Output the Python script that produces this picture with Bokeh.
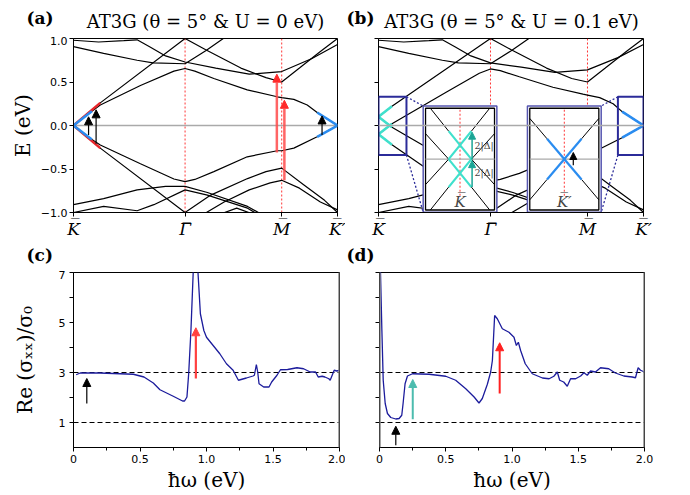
from bokeh.plotting import figure
from bokeh.models import Span, Label, Arrow, NormalHead, FixedTicker, BoxAnnotation, Range1d
from bokeh.layouts import column, row
from bokeh.embed import file_html
from bokeh.resources import INLINE
from bokeh.core.properties import value

# ---------------- k-path ----------------
K_PT, G_PT, M_PT, KP_PT = 0.0, 1.3333, 2.4880, 3.1547
path_ticks = [K_PT, G_PT, M_PT, KP_PT]
path_labels = ["K\u0305", "\u0393\u0305", "M\u0305", "K\u0305\u2032"]

titles = ["AT3G (\u03b8 = 5\u00b0 & U = 0 eV)", "AT3G (\u03b8 = 5\u00b0 & U = 0.1 eV)"]
panel_tags = ["(a)", "(b)", "(c)", "(d)"]

# ---------------- panel (a) bands, U = 0 ----------------
a_c1_k = [0, 0.22, 0.32, 0.8, 1.2, 1.333, 1.45, 1.677, 2.076, 2.434, 2.488, 2.633, 2.793, 2.912, 3.155]
a_c1_E = [0, 0.165, 0.235, 0.46, 0.625, 0.655, 0.625, 0.54, 0.41, 0.33, 0.32, 0.30, 0.236, 0.15, 0.0]
a_v1_k = [0, 0.22, 0.32, 0.8, 1.2, 1.333, 1.45, 1.677, 2.076, 2.434, 2.488, 2.633, 2.912, 3.155]
a_v1_E = [0, -0.16, -0.225, -0.44, -0.615, -0.646, -0.62, -0.53, -0.36, -0.29, -0.29, -0.26, -0.13, 0]
a_c2_k = [0, 0.32, 1.333, 1.58, 2.0, 2.3, 2.488, 2.7, 2.95, 3.155]
a_c2_E = [0, 0.26, 1.0, 0.87, 0.66, 0.55, 0.5, 0.66, 0.85, 1.0]
a_v2_k = [0, 0.32, 1.333, 1.64, 2.08, 2.3, 2.488, 2.75, 3.0, 3.155]
a_v2_E = [0, -0.26, -1.0, -0.8, -0.61, -0.53, -0.49, -0.68, -0.86, -1.0]
a_c3_k = [0, 0.3, 0.6, 0.76, 0.92, 1.1, 1.333, 1.7, 2.1, 2.488, 2.85, 3.155]
a_c3_E = [0.98, 0.96, 0.975, 0.985, 0.9, 0.8, 0.73, 0.66, 0.59, 0.62, 0.77, 0.93]
a_c4_k = [0, 0.36, 0.76, 0.95, 1.333, 1.58, 1.79, 1.9]
a_c4_E = [0.906, 0.83, 0.75, 0.72, 0.71, 0.86, 1.0, 1.06]
a_v3_k = [0, 0.36, 0.76, 1.1, 1.333, 1.6, 2.08, 2.3]
a_v3_E = [-0.91, -0.84, -0.74, -0.70, -0.70, -0.77, -0.93, -1.05]
a_v4_k = [0, 0.36, 0.76, 0.96, 1.333, 1.6, 2.08, 2.25]
a_v4_E = [-1.0, -0.93, -0.98, -0.91, -0.74, -0.80, -0.95, -1.05]
a_v5_k = [1.5, 1.8, 2.1, 2.35, 2.488, 2.7, 2.95, 3.155]
a_v5_E = [-1.05, -0.88, -0.74, -0.66, -0.63, -0.72, -0.88, -0.97]
a_v6_k = [1.75, 1.95, 2.15]
a_v6_E = [-1.02, -0.95, -1.02]

# arrows in (a): k, E_start, E_end
a_black_arrow_k = [0.18, 0.27, 2.97]
a_black_arrow_E0 = [-0.11, -0.21, -0.11]
a_black_arrow_E1 = [0.10, 0.18, 0.11]
a_red_arrow_k = [2.43, 2.52]
a_red_arrow_E0 = [-0.31, -0.63]
a_red_arrow_E1 = [0.59, 0.29]

# ---------------- panel (b) bands, U = 0.1 eV ----------------
b_c1_k = [0, 0.16, 0.8, 1.2, 1.333, 1.45, 1.677, 2.076, 2.434, 2.488, 2.633, 2.793, 2.9, 3.155]
b_c1_E = [-0.1, 0.02, 0.38, 0.6, 0.65, 0.63, 0.56, 0.44, 0.36, 0.35, 0.32, 0.25, 0.16, 0.0]
b_v1_k = [0, 0.16, 0.8, 1.2, 1.333, 1.45, 1.677, 2.076, 2.434, 2.488, 2.633, 2.9, 3.155]
b_v1_E = [0.1, -0.02, -0.38, -0.6, -0.64, -0.62, -0.55, -0.39, -0.31, -0.30, -0.27, -0.14, 0]
b_c2_k = [0, 0.16, 1.333, 1.58, 2.0, 2.3, 2.488, 2.7, 2.95, 3.155]
b_c2_E = [0.1, 0.22, 1.0, 0.87, 0.66, 0.54, 0.5, 0.66, 0.85, 1.0]
b_v2_k = [0, 0.16, 1.333, 1.64, 2.08, 2.3, 2.488, 2.75, 3.0, 3.155]
b_v2_E = [-0.1, -0.22, -1.0, -0.8, -0.61, -0.53, -0.49, -0.68, -0.86, -1.0]
b_c3_E = [0.98, 0.96, 0.975, 0.985, 0.9, 0.8, 0.72, 0.67, 0.61, 0.64, 0.78, 0.93]

# zoom windows (k0, k1, E0, E1) and inset boxes (inner frame)
zoom_K = (0.0, 0.333, -0.34, 0.33)
zoom_KP = (2.85, 3.1547, -0.34, 0.33)
inset_K = (0.56, 1.381, -0.971, 0.198)
inset_KP = (1.801, 2.623, -0.971, 0.198)
inset_pad = (0.028, 0.026)

# inset contents in normalised units (u, v in [-1, 1])
insK_cyan_u = [[-0.33, 0.33], [-0.33, 0.33], [-0.33, 0.33], [-0.33, 0.33]]
insK_cyan_v = [[0.55, 0.0], [0.0, 0.55], [0.0, -0.55], [-0.55, 0.0]]
insK_black_u = [[-0.33, -0.86], [0.33, 0.86], [-0.33, -0.86], [0.33, 0.86],
                [-0.33, -1.0], [-0.33, -1.0], [0.33, 1.0], [0.33, 1.0]]
insK_black_v = [[0.55, 1.0], [0.55, 1.0], [-0.55, -1.0], [-0.55, -1.0],
                [0.0, 0.5], [0.0, -0.5], [0.0, 0.5], [0.0, -0.5]]
insK_arrow_u = [0.35, 0.35]
insK_arrow_v0 = [-0.55, 0.0]
insK_arrow_v1 = [-0.03, 0.53]
insK_text_v = [0.27, -0.27]
insKP_blue_u = [[-0.5, 0.5], [-0.5, 0.5]]
insKP_blue_v = [[0.4, -0.4], [-0.4, 0.4]]
insKP_black_u = [[-1.0, -0.5], [0.5, 1.0], [-1.0, -0.5], [0.5, 1.0]]
insKP_black_v = [[0.8, 0.4], [0.4, 0.8], [-0.8, -0.4], [-0.4, -0.8]]
insKP_arrow = (0.26, -0.12, 0.13)

# ---------------- optical conductivity ----------------
c_w = [0.02, 0.05, 0.2, 0.45, 0.53, 0.6, 0.65, 0.75, 0.82, 0.835, 0.853, 0.866, 0.883, 0.90, 0.915,
       0.936, 0.954, 0.98, 1.0, 1.05, 1.10, 1.15, 1.2, 1.24, 1.30, 1.35, 1.36, 1.375, 1.385, 1.395,
       1.43, 1.47, 1.49, 1.53, 1.556, 1.61, 1.68, 1.73, 1.78, 1.82, 1.84, 1.87, 1.89, 1.92, 1.93,
       1.96, 1.98, 2.0]
c_s = [2.91, 2.98, 2.98, 2.93, 2.82, 2.58, 2.31, 2.05, 1.86, 1.86, 2.02, 2.95, 4.68, 7.0, 8.5,
       7.0, 5.35, 4.68, 4.41, 4.08, 3.75, 3.35, 3.09, 2.69, 2.78, 2.86, 2.89, 3.32, 3.02, 2.55,
       2.42, 2.42, 2.62, 2.89, 3.11, 3.12, 3.19, 3.15, 3.02, 3.02, 2.82, 2.85, 2.82, 2.75, 2.69,
       3.09, 3.06, 3.09]
d_w = [0.003, 0.018, 0.028, 0.043, 0.06, 0.085, 0.123, 0.148, 0.168, 0.178, 0.193, 0.211, 0.249,
       0.374, 0.5, 0.575, 0.651, 0.714, 0.751, 0.776, 0.814, 0.839, 0.852, 0.869, 0.889, 0.927,
       0.977, 1.015, 1.033, 1.048, 1.065, 1.10, 1.153, 1.23, 1.28, 1.316, 1.342, 1.36, 1.39, 1.417,
       1.442, 1.48, 1.518, 1.543, 1.568, 1.593, 1.63, 1.668, 1.73, 1.78, 1.807, 1.844, 1.907,
       1.932, 1.952, 1.97, 2.0]
d_s = [8.0, 4.68, 2.69, 1.76, 1.36, 1.2, 1.14, 1.16, 1.29, 1.76, 2.55, 2.86, 2.95,
       2.93, 2.85, 2.69, 2.35, 2.02, 1.78, 1.96, 2.53, 3.02, 3.48, 5.28, 5.15, 4.75,
       4.61, 4.41, 4.08, 4.21, 3.88, 3.35, 2.95, 2.78, 2.75, 2.85, 3.02, 2.69, 2.62, 2.45,
       2.75, 2.75, 2.86, 2.99, 2.89, 3.06, 3.02, 3.19, 3.15, 2.98, 2.93, 2.86, 2.82,
       2.79, 3.19, 3.09, 3.02]
ref_levels = [1, 3]
c_arrows = [(0.10, 1.76, 2.76, "black"), (0.92, 2.76, 4.79, "#ff4040")]
d_arrows = [(0.123, 0.09, 0.85, "black"), (0.251, 1.13, 2.72, "#4cbcae"), (0.907, 2.16, 4.19, "#ff2020")]

SERIF = "DejaVu Serif"
SANS = "DejaVu Sans"
RED = "#e8262a"
BLUE = "#2a8cf0"
CYAN = "#3fe0cc"
TEAL = "#1aa595"
NAVY = "#1c1c9c"
BOXC = "#2b2b99"


def base_fig(width, height, left, right, top, bottom, xr, yr):
    p = figure(width=width, height=height, x_range=xr, y_range=yr,
               min_border_left=left, min_border_right=right,
               min_border_top=top, min_border_bottom=bottom,
               output_backend="svg", toolbar_location=None)
    p.grid.visible = False
    p.outline_line_color = "black"
    p.outline_line_width = 1
    p.background_fill_color = "white"
    p.border_fill_color = "white"
    for ax in p.axis:
        ax.axis_line_color = "black"
        ax.major_tick_out = 4
        ax.major_tick_in = 0
        ax.minor_tick_out = 3
        ax.minor_tick_in = 0
        ax.major_label_standoff = 2
        ax.major_label_text_font = SANS
        ax.major_label_text_font_size = "11px"
        ax.major_label_text_color = "black"
        ax.axis_label_text_font = SERIF
        ax.axis_label_text_font_style = "normal"
        ax.axis_label_text_font_size = "20px"
        ax.axis_label_text_color = "black"
    return p


def header_fig(height, tags, tag_x, tag_y, texts=None, text_x=None, text_y=None):
    h = figure(width=690, height=height, x_range=Range1d(0, 690), y_range=Range1d(height, 0),
               min_border=0, output_backend="svg", toolbar_location=None,
               x_axis_type=None, y_axis_type=None)
    h.grid.visible = False
    h.outline_line_color = None
    h.text(x=tag_x, y=tag_y, text=tags, text_font=value(SERIF), text_font_style="bold",
           text_font_size="17px", text_baseline="middle", text_align="left", text_color="black")
    if texts:
        h.text(x=text_x, y=text_y, text=texts, text_font=value(SERIF), text_font_style="normal",
               text_font_size="18px", text_baseline="middle", text_align="center", text_color="black")
    return h


def band_axes(p, show_y):
    p.xaxis.ticker = FixedTicker(ticks=path_ticks, minor_ticks=[])
    p.xaxis.major_label_overrides = dict(zip(path_ticks, path_labels))
    p.xaxis.major_label_text_font = SERIF
    p.xaxis.major_label_text_font_style = "italic"
    p.xaxis.major_label_text_font_size = "17px"
    p.yaxis.ticker = FixedTicker(ticks=[-1, -0.5, 0, 0.5, 1], minor_ticks=[])
    if show_y:
        p.yaxis.major_label_overrides = {-1: "\u22121.0", -0.5: "\u22120.5", 0: "0.0", 0.5: "0.5", 1: "1.0"}
        p.yaxis.axis_label = "E (eV)"
        p.yaxis.axis_label_standoff = 3
    else:
        p.yaxis.major_label_overrides = {-1: "", -0.5: "", 0: "", 0.5: "", 1: ""}


def inset_map(u, v, box):
    k0, k1, e0, e1 = box
    return [k0 + (x + 1) / 2 * (k1 - k0) for x in u], [e0 + (y + 1) / 2 * (e1 - e0) for y in v]


def draw_lines(p, us, vs, box, color, width):
    xs, ys = [], []
    for u, v in zip(us, vs):
        x, y = inset_map(u, v, box)
        xs.append(x)
        ys.append(y)
    p.multi_line(xs, ys, line_color=color, line_width=width)


# ================= header rows =================
head1 = header_fig(36, panel_tags[:2], [26, 346], [17, 17], titles, [205, 511], [21, 21])
head2 = header_fig(28, panel_tags[2:], [26, 346], [12, 12])

# ================= panel (a) =================
pa = base_fig(345, 206, 73, 8, 2, 30, (K_PT, KP_PT), (-1, 1))
band_axes(pa, True)
for loc in (G_PT, M_PT):
    pa.add_layout(Span(location=loc, dimension="height", line_color="red",
                       line_dash="2 2", line_width=0.8, level="underlay"))
pa.add_layout(Span(location=0, dimension="width", line_color="#aaaaaa", line_width=1.5, level="underlay"))
for k, E in [(a_c1_k, a_c1_E), (a_v1_k, a_v1_E), (a_c2_k, a_c2_E), (a_v2_k, a_v2_E),
             (a_c3_k, a_c3_E), (a_c4_k, a_c4_E), (a_v3_k, a_v3_E), (a_v4_k, a_v4_E),
             (a_v5_k, a_v5_E), (a_v6_k, a_v6_E)]:
    pa.line(k, E, line_color="black", line_width=1.2)
for k, E in [(a_c2_k, a_c2_E), (a_v2_k, a_v2_E)]:
    pa.line(k[:2], E[:2], line_color=RED, line_width=2.5)
for k, E in [(a_c1_k, a_c1_E), (a_v1_k, a_v1_E)]:
    pa.line(k[:2], E[:2], line_color=BLUE, line_width=2.5)
    pa.line(k[-2:], E[-2:], line_color=BLUE, line_width=2.5)
for k, e0, e1 in zip(a_black_arrow_k, a_black_arrow_E0, a_black_arrow_E1):
    pa.add_layout(Arrow(end=NormalHead(size=8, fill_color="black", line_color="black"),
                        x_start=k, y_start=e0, x_end=k, y_end=e1, line_color="black", line_width=1.2))
for k, e0, e1 in zip(a_red_arrow_k, a_red_arrow_E0, a_red_arrow_E1):
    pa.add_layout(Arrow(end=NormalHead(size=8, fill_color="#ff2a2a", line_color="#ff2a2a"),
                        x_start=k, y_start=e0, x_end=k, y_end=e1, line_color="#ff4a4a",
                        line_width=2.5, line_alpha=0.85))

# ================= panel (b) =================
pb = base_fig(345, 206, 33, 47, 2, 30, (K_PT, KP_PT), (-1, 1))
band_axes(pb, False)
for loc in (G_PT, M_PT):
    pb.add_layout(Span(location=loc, dimension="height", line_color="red",
                       line_dash="2 2", line_width=0.8, level="underlay"))
for k, E in [(b_c1_k, b_c1_E), (b_v1_k, b_v1_E), (b_c2_k, b_c2_E), (b_v2_k, b_v2_E),
             (a_c3_k, b_c3_E), (a_c4_k, a_c4_E), (a_v3_k, a_v3_E), (a_v4_k, a_v4_E),
             (a_v5_k, a_v5_E), (a_v6_k, a_v6_E)]:
    pb.line(k, E, line_color="black", line_width=1.2)
for k, E in [(b_c1_k, b_c1_E), (b_v1_k, b_v1_E), (b_c2_k, b_c2_E), (b_v2_k, b_v2_E)]:
    pb.line(k[:2], E[:2], line_color=CYAN, line_width=2.5)
for k, E in [(b_c1_k, b_c1_E), (b_v1_k, b_v1_E)]:
    pb.line(k[-2:], E[-2:], line_color=BLUE, line_width=2.5)
for zb in (zoom_K, zoom_KP):
    pb.add_layout(BoxAnnotation(left=zb[0], right=zb[1], bottom=zb[2], top=zb[3],
                                fill_alpha=0, line_color=BOXC, line_width=2, line_alpha=1))
pk, pe = inset_pad
pb.line([zoom_K[1], inset_K[0] - pk], [zoom_K[3], inset_K[3] + pe], line_color=BOXC, line_dash="2 2", line_width=1.3)
pb.line([zoom_K[1], inset_K[0] - pk], [zoom_K[2], inset_K[2] - pe], line_color=BOXC, line_dash="2 2", line_width=1.3)
pb.line([zoom_KP[0], inset_KP[1] + pk], [zoom_KP[3], inset_KP[3] + pe], line_color=BOXC, line_dash="2 2", line_width=1.3)
pb.line([zoom_KP[0], inset_KP[1] + pk], [zoom_KP[2], inset_KP[2] - pe], line_color=BOXC, line_dash="2 2", line_width=1.3)
for box in (inset_K, inset_KP):
    pb.quad(left=[box[0] - pk], right=[box[1] + pk], bottom=[box[2] - pe], top=[box[3] + pe],
            fill_color="white", line_color="#5656b0", line_width=1.5)
    pb.quad(left=[box[0]], right=[box[1]], bottom=[box[2]], top=[box[3]],
            fill_color="white", line_color="black", line_width=1.3)
    xs, ys = inset_map([0, 0], [-0.72, 1.0], box)
    pb.line(xs, ys, line_color="red", line_dash="2 2", line_width=0.8)
    xs, ys = inset_map([-1, 1], [0, 0], box)
    pb.line(xs, ys, line_color="#aaaaaa", line_width=1.2)
draw_lines(pb, insK_black_u, insK_black_v, inset_K, "black", 1.0)
draw_lines(pb, insK_cyan_u, insK_cyan_v, inset_K, CYAN, 2.2)
draw_lines(pb, insKP_black_u, insKP_black_v, inset_KP, "black", 1.0)
draw_lines(pb, insKP_blue_u, insKP_blue_v, inset_KP, BLUE, 2.2)
for u, v0, v1 in zip(insK_arrow_u, insK_arrow_v0, insK_arrow_v1):
    (x0, x1), (y0, y1) = inset_map([u, u], [v0, v1], inset_K)
    pb.add_layout(Arrow(end=NormalHead(size=7, fill_color=TEAL, line_color=TEAL),
                        x_start=x0, y_start=y0, x_end=x1, y_end=y1, line_color=TEAL, line_width=1.5))
for v in insK_text_v:
    (x0,), (y0,) = inset_map([0.42], [v], inset_K)
    pb.add_layout(Label(x=x0, y=y0, text="2|\u0394|", text_font=SERIF, text_font_size="9.5px",
                        text_baseline="middle", text_align="left"))
u, v0, v1 = insKP_arrow
(x0, x1), (y0, y1) = inset_map([u, u], [v0, v1], inset_KP)
pb.add_layout(Arrow(end=NormalHead(size=7, fill_color="black", line_color="black"),
                    x_start=x0, y_start=y0, x_end=x1, y_end=y1, line_color="black", line_width=1.2))
for box, txt in ((inset_K, "K\u0305"), (inset_KP, "K\u0305\u2032")):
    (x0,), (y0,) = inset_map([0], [-0.84], box)
    pb.add_layout(Label(x=x0, y=y0, text=txt, text_font=SERIF, text_font_style="italic",
                        text_font_size="15px", text_baseline="middle", text_align="center"))
pb.add_layout(Span(location=0, dimension="width", line_color="#aaaaaa", line_width=1.5))


# ================= panels (c), (d) =================
def sigma_fig(left, right, show_y):
    p = base_fig(345, 225, left, right, 2, 48, (0, 2.0), (0, 7))
    p.xaxis.ticker = FixedTicker(ticks=[0, 0.5, 1.0, 1.5, 2.0], minor_ticks=[0.25, 0.75, 1.25, 1.75])
    p.xaxis.major_label_overrides = {0: "0", 0.5: "0.5", 1: "1.0", 1.5: "1.5", 2: "2.0"}
    p.xaxis.axis_label = "\u0127\u03c9 (eV)"
    p.xaxis.axis_label_standoff = 2
    p.xaxis.major_label_standoff = 3
    p.yaxis.ticker = FixedTicker(ticks=[1, 2, 3, 4, 5, 6, 7], minor_ticks=[])
    if show_y:
        p.yaxis.major_label_overrides = {1: "1", 2: "", 3: "3", 4: "", 5: "5", 6: "", 7: "7"}
        p.yaxis.axis_label = "Re (\u03c3\u2093\u2093)/\u03c3\u2080"
        p.yaxis.axis_label_standoff = 19
        p.yaxis.major_label_standoff = 4
    else:
        p.yaxis.major_label_overrides = {i: "" for i in range(1, 8)}
    for lv in ref_levels:
        p.add_layout(Span(location=lv, dimension="width", line_color="black",
                          line_dash="5 3", line_width=1, level="underlay"))
    return p


pc = sigma_fig(73, 6, True)
pc.line(c_w, c_s, line_color=NAVY, line_width=1.3)
pc.add_layout(Span(location=2.0, dimension="height", line_color="#888888", line_width=2.5))
for x, s0, s1, col in c_arrows:
    pc.add_layout(Arrow(end=NormalHead(size=8, fill_color=col, line_color=col),
                        x_start=x, y_start=s0, x_end=x, y_end=s1, line_color=col,
                        line_width=1.2 if col == "black" else 2.2))

pd = sigma_fig(34, 46, False)
pd.line(d_w, d_s, line_color=NAVY, line_width=1.3)
for loc in (0.0, 2.0):
    pd.add_layout(Span(location=loc, dimension="height", line_color="#888888", line_width=2.5))
for x, s0, s1, col in d_arrows:
    pd.add_layout(Arrow(end=NormalHead(size=8, fill_color=col, line_color=col),
                        x_start=x, y_start=s0, x_end=x, y_end=s1, line_color=col,
                        line_width=1.2 if col == "black" else 2.0))

layout = column(head1, row(pa, pb), head2, row(pc, pd))
open("out.html", "w").write(file_html(layout, INLINE))
